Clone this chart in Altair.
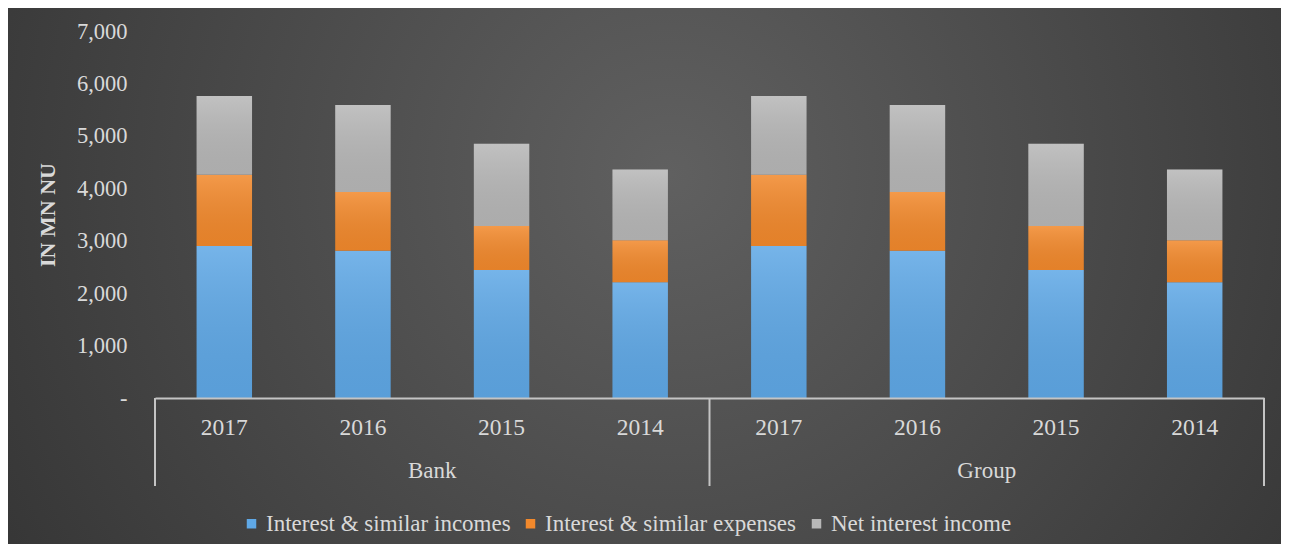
import altair as alt
import pandas as pd

groups = ["Bank", "Bank", "Bank", "Bank", "Group", "Group", "Group", "Group"]
years = ["2017", "2016", "2015", "2014", "2017", "2016", "2015", "2014"]
series = ["Interest & similar incomes", "Interest & similar expenses", "Net interest income"]
income = [2900, 2810, 2440, 2210, 2900, 2810, 2440, 2210]
expense = [1360, 1120, 840, 800, 1360, 1120, 840, 800]
net = [1500, 1660, 1570, 1350, 1500, 1660, 1570, 1350]
colors = ["#5fa8e6", "#f2892c", "#b7b7b7"]

group_names = ["Bank", "Group"]
group_centers = [2, 6]
separator_pos = [0, 4, 8]

W, H = 1109, 367
PL, PT, PR, PB = 147, 23, 17, 146

keys = [f"{g}|{y}" for g, y in zip(groups, years)]
rows = []
for i, k in enumerate(keys):
    for j, (s, vals) in enumerate(zip(series, [income, expense, net])):
        rows.append({"key": k, "series": s, "ord": j, "value": vals[i]})
df = pd.DataFrame(rows)

FONT = "Liberation Serif, Times New Roman, serif"
TXT = "#d9d9d9"

bg = alt.Chart(pd.DataFrame({"a": [0]})).mark_rect(
    fill=alt.RadialGradient(
        gradient="radial", x1=0.52, y1=0.42, r1=0, x2=0.52, y2=0.42, r2=0.75,
        stops=[alt.GradientStop(offset=0, color="#606060"),
               alt.GradientStop(offset=1, color="#2c2c2c")]
    )
).encode(
    x=alt.value(-PL), x2=alt.value(W + PR), y=alt.value(-PT), y2=alt.value(H + PB)
)

base = alt.Chart(df).transform_stack(
    stack="value", groupby=["key"], as_=["v0", "v1"],
    sort=[alt.SortField("ord", order="ascending")]
)

xscale = alt.Scale(domain=keys, paddingInner=0.6, paddingOuter=0.3)
yscale = alt.Scale(domain=[0, 7000])

bars = base.mark_bar().encode(
    x=alt.X("key:N", scale=xscale, sort=keys, title=None,
            axis=alt.Axis(labelExpr="split(datum.label, '|')[1]", labelAngle=0,
                          labelFont=FONT, labelFontSize=23.5, labelColor=TXT,
                          labelPadding=17, ticks=False, domainColor="#c4c4c4",
                          domainWidth=2, zindex=2)),
    y=alt.Y("v0:Q", scale=yscale, title="IN MN NU",
            axis=alt.Axis(values=[0, 1000, 2000, 3000, 4000, 5000, 6000, 7000],
                          labelExpr="datum.value == 0 ? '-' : format(datum.value, ',')",
                          labelFont=FONT, labelFontSize=22.5, labelColor=TXT,
                          labelPadding=28, ticks=False, domain=False, grid=False,
                          titleFont=FONT, titleFontSize=22, titleFontWeight="bold",
                          titleColor=TXT, titlePadding=17, zindex=2)),
    y2="v1:Q",
    color=alt.Color("series:N", scale=alt.Scale(domain=series, range=colors),
                    legend=alt.Legend(title=None, orient="none", direction="horizontal",
                                      legendX=85, legendY=481,
                                      symbolType="square", symbolSize=90,
                                      symbolStrokeWidth=0, labelLimit=0,
                                      labelFont=FONT, labelFontSize=23, labelColor=TXT,
                                      labelOffset=3, columnPadding=8)),
)

shade = base.mark_bar(
    fill=alt.LinearGradient(
        gradient="linear", x1=0, y1=0, x2=0, y2=1,
        stops=[alt.GradientStop(offset=0, color="rgba(255,255,255,0.14)"),
               alt.GradientStop(offset=1, color="rgba(0,0,0,0.06)")]
    )
).encode(
    x=alt.X("key:N", scale=xscale, sort=keys, axis=None),
    y=alt.Y("v0:Q", scale=yscale),
    y2="v1:Q",
)

seps = alt.Chart(pd.DataFrame({"p": separator_pos})).mark_rule(
    color="#c4c4c4", strokeWidth=2
).encode(
    x=alt.X("p:Q", scale=alt.Scale(domain=[0, 8]), axis=None),
    y=alt.value(H), y2=alt.value(H + 88),
)

glabels = alt.Chart(pd.DataFrame({"g": group_names, "c": group_centers})).mark_text(
    font=FONT, fontSize=23, color=TXT, baseline="middle"
).encode(
    x=alt.X("c:Q", scale=alt.Scale(domain=[0, 8]), axis=None),
    y=alt.value(H + 73),
    text="g:N",
)

chart = alt.layer(bg, bars, shade, seps, glabels).resolve_scale(
    x="independent"
).properties(
    width=W, height=H, autosize=alt.AutoSizeParams(type="none"),
    padding={"left": PL, "top": PT, "right": PR, "bottom": PB},
    background="#333333",
).configure_view(stroke=None)

chart.save("out.html", embed_options={"renderer": "svg", "actions": False})
